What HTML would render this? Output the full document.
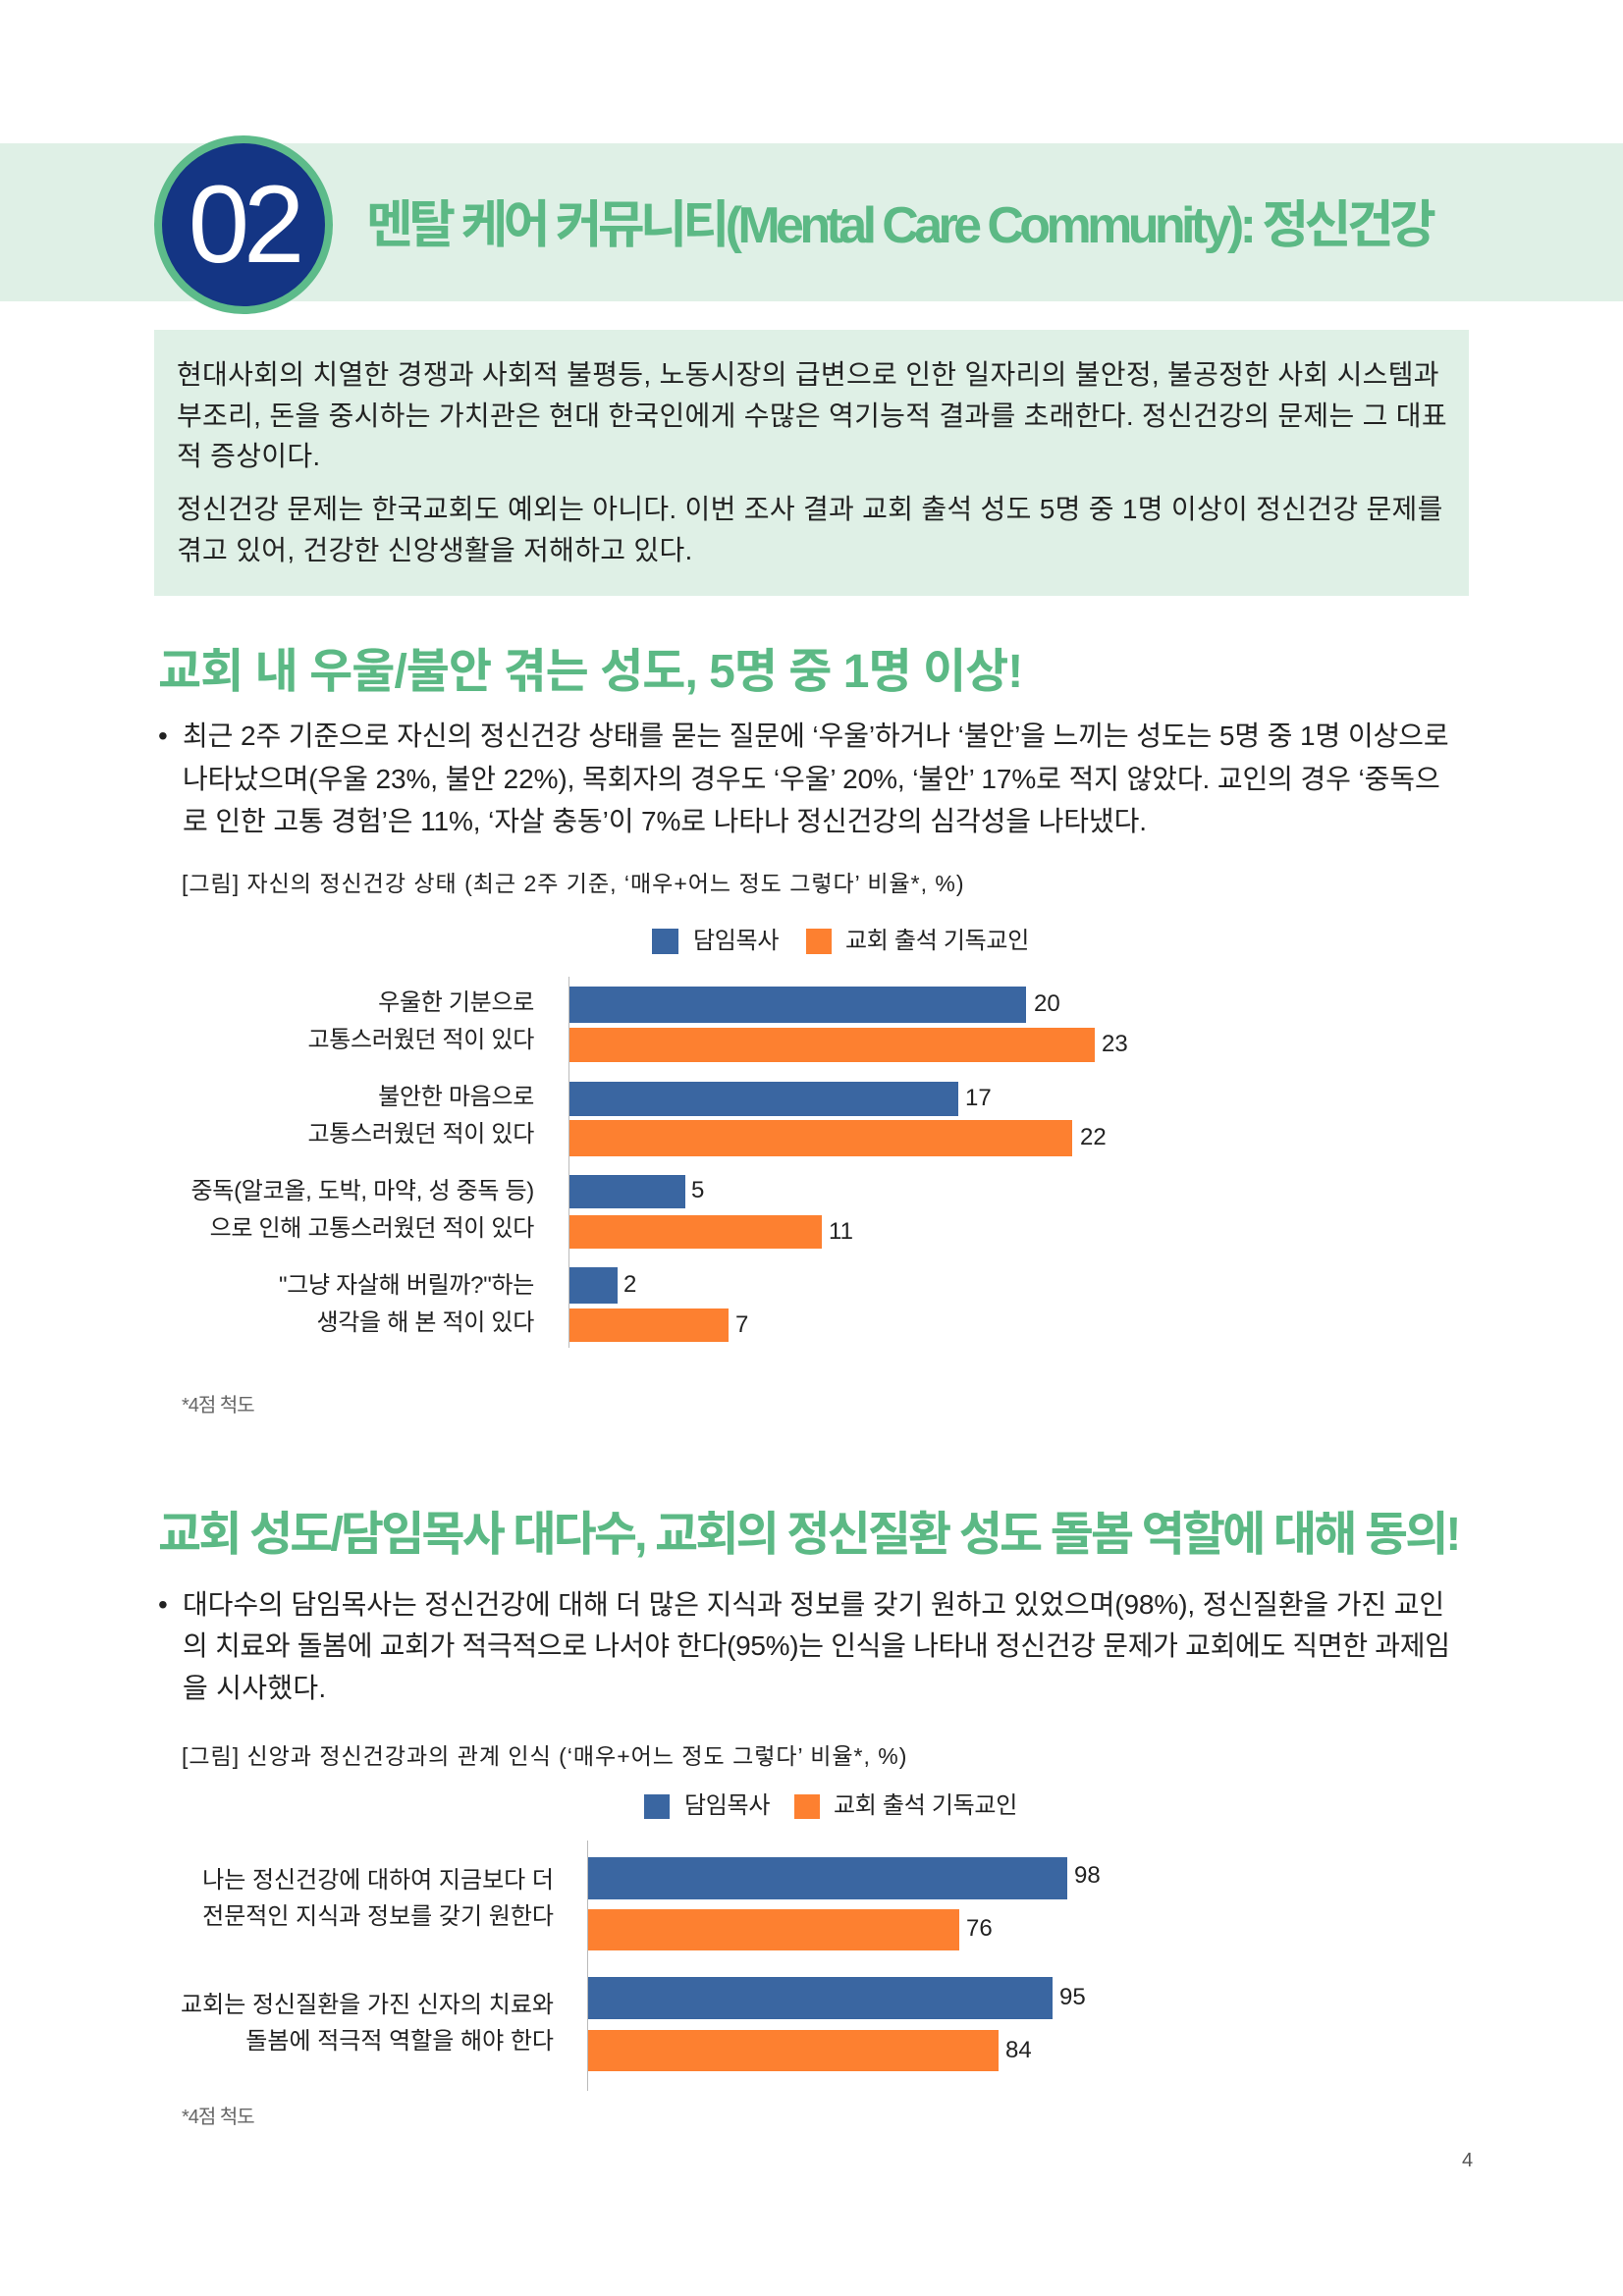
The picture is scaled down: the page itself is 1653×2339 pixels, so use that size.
<!DOCTYPE html>
<html><head><meta charset="utf-8"><style>
*{margin:0;padding:0;box-sizing:border-box}
body{width:1653px;height:2339px;background:#fff;position:relative;overflow:hidden;font-family:"Liberation Sans","Noto Sans CJK KR",sans-serif;color:#222}
.a{position:absolute;white-space:nowrap}
.t{font-size:28px;letter-spacing:0.3px;line-height:1}
.g{color:#5cb985;font-weight:bold}
.lbl{font-size:24px;letter-spacing:-0.3px;text-align:right;line-height:1}
.lbl2{font-size:24px;letter-spacing:0px;text-align:right;line-height:1}
.v{font-size:24px;line-height:1}
.b{position:absolute;background:#3a66a1}
.o{position:absolute;background:#fd8030}
</style></head><body>
<div class="a" style="left:0;top:146px;width:1653px;height:161px;background:#dff0e6"></div>
<div class="a" style="left:157px;top:138px;width:182px;height:182px;border-radius:50%;background:#5dbb8a"></div>
<div class="a" style="left:165px;top:146px;width:166px;height:166px;border-radius:50%;background:#143584;color:#fff;font-size:112px;text-align:center;line-height:166px;letter-spacing:-6px">02</div>
<div class="a g" style="left:373px;top:200px;font-size:52px;letter-spacing:-4.6px;line-height:60px">멘탈 케어 커뮤니티(Mental Care Community): 정신건강</div>

<div class="a" style="left:157px;top:336px;width:1339px;height:271px;background:#dff0e6"></div>
<div class="a t" style="left:180px;top:368px">현대사회의 치열한 경쟁과 사회적 불평등, 노동시장의 급변으로 인한 일자리의 불안정, 불공정한 사회 시스템과</div>
<div class="a t" style="left:180px;top:410px">부조리, 돈을 중시하는 가치관은 현대 한국인에게 수많은 역기능적 결과를 초래한다. 정신건강의 문제는 그 대표</div>
<div class="a t" style="left:180px;top:451px">적 증상이다.</div>
<div class="a t" style="left:180px;top:505px">정신건강 문제는 한국교회도 예외는 아니다. 이번 조사 결과 교회 출석 성도 5명 중 1명 이상이 정신건강 문제를</div>
<div class="a t" style="left:180px;top:547px">겪고 있어, 건강한 신앙생활을 저해하고 있다.</div>

<div class="a g" style="left:161px;top:658px;font-size:48px;letter-spacing:-1px;line-height:54px">교회 내 우울/불안 겪는 성도, 5명 중 1명 이상!</div>
<div class="a t" style="left:161px;top:736px">•</div>
<div class="a t" style="left:186px;top:736px;letter-spacing:-0.1px">최근 2주 기준으로 자신의 정신건강 상태를 묻는 질문에 ‘우울’하거나 ‘불안’을 느끼는 성도는 5명 중 1명 이상으로</div>
<div class="a t" style="left:186px;top:780px;letter-spacing:-0.1px">나타났으며(우울 23%, 불안 22%), 목회자의 경우도 ‘우울’ 20%, ‘불안’ 17%로 적지 않았다. 교인의 경우 ‘중독으</div>
<div class="a t" style="left:186px;top:823px;letter-spacing:-0.1px">로 인한 고통 경험’은 11%, ‘자살 충동’이 7%로 나타나 정신건강의 심각성을 나타냈다.</div>
<div class="a" style="left:185px;top:889px;font-size:23px;letter-spacing:1px;line-height:1">[그림] 자신의 정신건강 상태 (최근 2주 기준, ‘매우+어느 정도 그렇다’ 비율*, %)</div>

<div class="b" style="left:664px;top:946px;width:27px;height:26px"></div>
<div class="a lbl" style="left:706px;top:947px;text-align:left">담임목사</div>
<div class="o" style="left:821px;top:946px;width:26px;height:26px"></div>
<div class="a lbl" style="left:861px;top:947px;text-align:left">교회 출석 기독교인</div>

<div class="a" style="left:579px;top:995px;width:1px;height:378px;background:#bbb"></div>
<div class="b" style="left:580px;top:1005px;width:465px;height:37px"></div><div class="a v" style="left:1053px;top:1011px">20</div>
<div class="o" style="left:580px;top:1047px;width:535px;height:35px"></div><div class="a v" style="left:1122px;top:1052px">23</div>
<div class="b" style="left:580px;top:1102px;width:396px;height:35px"></div><div class="a v" style="left:983px;top:1107px">17</div>
<div class="o" style="left:580px;top:1141px;width:512px;height:37px"></div><div class="a v" style="left:1100px;top:1147px">22</div>
<div class="b" style="left:580px;top:1197px;width:118px;height:34px"></div><div class="a v" style="left:704px;top:1201px">5</div>
<div class="o" style="left:580px;top:1238px;width:257px;height:34px"></div><div class="a v" style="left:844px;top:1243px">11</div>
<div class="b" style="left:580px;top:1291px;width:49px;height:37px"></div><div class="a v" style="left:635px;top:1297px">2</div>
<div class="o" style="left:580px;top:1333px;width:162px;height:34px"></div><div class="a v" style="left:749px;top:1338px">7</div>

<div class="a lbl" style="right:1109px;top:1010px">우울한 기분으로</div>
<div class="a lbl" style="right:1109px;top:1048px">고통스러웠던 적이 있다</div>
<div class="a lbl" style="right:1109px;top:1106px">불안한 마음으로</div>
<div class="a lbl" style="right:1109px;top:1144px">고통스러웠던 적이 있다</div>
<div class="a lbl" style="right:1109px;top:1202px">중독(알코올, 도박, 마약, 성 중독 등)</div>
<div class="a lbl" style="right:1109px;top:1240px">으로 인해 고통스러웠던 적이 있다</div>
<div class="a lbl" style="right:1109px;top:1298px">"그냥 자살해 버릴까?"하는</div>
<div class="a lbl" style="right:1109px;top:1336px">생각을 해 본 적이 있다</div>
<div class="a" style="left:185px;top:1415px;font-size:20px;color:#666;letter-spacing:-1px">*4점 척도</div>

<div class="a g" style="left:161px;top:1537px;font-size:48px;letter-spacing:-2.9px;line-height:54px">교회 성도/담임목사 대다수, 교회의 정신질환 성도 돌봄 역할에 대해 동의!</div>
<div class="a t" style="left:161px;top:1621px">•</div>
<div class="a t" style="left:186px;top:1621px;letter-spacing:-0.1px">대다수의 담임목사는 정신건강에 대해 더 많은 지식과 정보를 갖기 원하고 있었으며(98%), 정신질환을 가진 교인</div>
<div class="a t" style="left:186px;top:1663px;letter-spacing:-0.3px">의 치료와 돌봄에 교회가 적극적으로 나서야 한다(95%)는 인식을 나타내 정신건강 문제가 교회에도 직면한 과제임</div>
<div class="a t" style="left:186px;top:1706px">을 시사했다.</div>
<div class="a" style="left:185px;top:1778px;font-size:23px;letter-spacing:1px;line-height:1">[그림] 신앙과 정신건강과의 관계 인식 (‘매우+어느 정도 그렇다’ 비율*, %)</div>

<div class="b" style="left:656px;top:1828px;width:26px;height:25px"></div>
<div class="a lbl" style="left:697px;top:1828px;text-align:left">담임목사</div>
<div class="o" style="left:809px;top:1828px;width:26px;height:25px"></div>
<div class="a lbl" style="left:849px;top:1828px;text-align:left">교회 출석 기독교인</div>

<div class="a" style="left:598px;top:1875px;width:1px;height:255px;background:#bbb"></div>
<div class="b" style="left:599px;top:1892px;width:488px;height:43px"></div><div class="a v" style="left:1094px;top:1899px">98</div>
<div class="o" style="left:599px;top:1945px;width:378px;height:42px"></div><div class="a v" style="left:984px;top:1953px">76</div>
<div class="b" style="left:599px;top:2014px;width:473px;height:43px"></div><div class="a v" style="left:1079px;top:2023px">95</div>
<div class="o" style="left:599px;top:2068px;width:418px;height:42px"></div><div class="a v" style="left:1024px;top:2077px">84</div>

<div class="a lbl2" style="right:1089px;top:1904px">나는 정신건강에 대하여 지금보다 더</div>
<div class="a lbl2" style="right:1089px;top:1941px">전문적인 지식과 정보를 갖기 원한다</div>
<div class="a lbl2" style="right:1089px;top:2031px">교회는 정신질환을 가진 신자의 치료와</div>
<div class="a lbl2" style="right:1089px;top:2068px">돌봄에 적극적 역할을 해야 한다</div>
<div class="a" style="left:185px;top:2140px;font-size:20px;color:#666;letter-spacing:-1px">*4점 척도</div>
<div class="a" style="left:1489px;top:2190px;font-size:20px;color:#555">4</div>
</body></html>
